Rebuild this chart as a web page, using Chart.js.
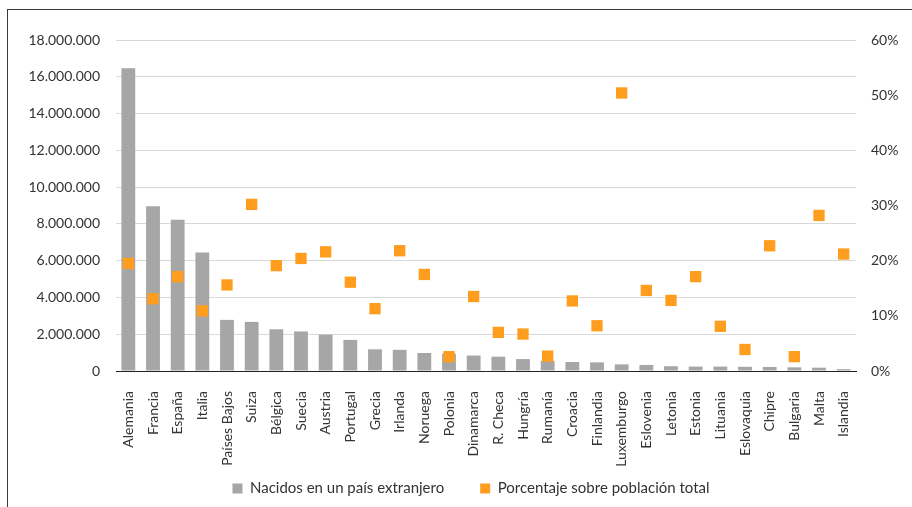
<!DOCTYPE html>
<html>
<head>
<meta charset="utf-8">
<script src="https://cdn.jsdelivr.net/npm/chart.js@4"></script>
<style>
  html, body { margin: 0; padding: 0; background: #fff; overflow: hidden; }
  #wrap { position: relative; width: 912px; height: 507px; }
  #frame { position: absolute; left: 7px; top: 9px; width: 1000px; height: 1000px; border: 1px solid #3a3a3a; pointer-events: none; }
</style>
</head>
<body>
<div id="wrap">
  <canvas id="chart" width="912" height="507"></canvas>
  <div id="frame"></div>
</div>
<script>
// Países (ordenados por número de nacidos en el extranjero)
const paises = ['Alemania', 'Francia', 'España', 'Italia', 'Países Bajos', 'Suiza', 'Bélgica', 'Suecia',
  'Austria', 'Portugal', 'Grecia', 'Irlanda', 'Noruega', 'Polonia', 'Dinamarca', 'R. Checa', 'Hungría',
  'Rumanía', 'Croacia', 'Finlandia', 'Luxemburgo', 'Eslovenia', 'Letonia', 'Estonia', 'Lituania',
  'Eslovaquia', 'Chipre', 'Bulgaria', 'Malta', 'Islandia'];

// Nacidos en un país extranjero (personas)
const nacidos = [16460000, 8960000, 8220000, 6440000, 2780000, 2670000, 2270000, 2150000,
  1980000, 1690000, 1180000, 1150000, 980000, 940000, 840000, 780000, 650000,
  550000, 490000, 470000, 360000, 330000, 260000, 240000, 240000,
  230000, 220000, 200000, 180000, 100000];

// Porcentaje sobre población total (%)
const porcentaje = [19.5, 13.1, 17.1, 10.9, 15.6, 30.2, 19.1, 20.4,
  21.6, 16.1, 11.3, 21.8, 17.5, 2.6, 13.5, 7.0, 6.7,
  2.7, 12.7, 8.2, 50.4, 14.6, 12.8, 17.1, 8.1,
  3.9, 22.7, 2.6, 28.2, 21.2];

const ticksIzq = { min: 0, max: 18000000, step: 2000000 };
const ticksDer = { min: 0, max: 60, step: 10 };

const fuente = { family: 'Lato', size: 14 };
const colorTexto = '#333333';

function miles(v) {
  return String(Math.round(v)).replace(/\B(?=(\d{3})+(?!\d))/g, '.');
}

// las etiquetas giradas son más largas que la caja del eje: no recortarlas,
// y la leyenda va un poco desplazada a la derecha como en el original
const ajustes = {
  id: 'ajustes',
  afterLayout(chart) {
    chart.scales.x.bottom = chart.height;
    chart.legend.left += 15;
    chart.legend.right += 15;
  }
};

new Chart(document.getElementById('chart'), {
  type: 'bar',
  data: {
    labels: paises,
    datasets: [
      {
        label: 'Nacidos en un país extranjero',
        data: nacidos,
        backgroundColor: '#A6A6A6',
        borderWidth: 0,
        categoryPercentage: 1,
        barPercentage: 0.56,
        yAxisID: 'y',
        order: 2
      },
      {
        type: 'line',
        label: 'Porcentaje sobre población total',
        data: porcentaje,
        showLine: false,
        pointStyle: 'rect',
        pointRadius: 8,
        pointHoverRadius: 8,
        backgroundColor: '#FF9E1E',
        borderColor: '#FF9E1E',
        borderWidth: 0,
        yAxisID: 'y1',
        order: 1
      }
    ]
  },
  plugins: [ajustes],
  options: {
    responsive: false,
    animation: false,
    layout: { padding: { top: 40, left: 0, right: 0, bottom: 1 } },
    scales: {
      x: {
        grid: { display: false },
        border: { display: true, color: '#222', width: 1 },
        ticks: {
          font: fuente, color: colorTexto,
          minRotation: 90, maxRotation: 90, padding: 12, autoSkip: false
        },
        afterFit: (scale) => { scale.height = 74; }
      },
      y: {
        position: 'left',
        min: ticksIzq.min, max: ticksIzq.max,
        grid: { color: '#D9D9D9', lineWidth: 1, drawTicks: false },
        border: { display: false },
        ticks: {
          stepSize: ticksIzq.step, font: fuente, color: colorTexto, padding: 16,
          callback: (v) => miles(v)
        },
        afterFit: (scale) => { scale.width = 116; }
      },
      y1: {
        position: 'right',
        min: ticksDer.min, max: ticksDer.max,
        grid: { display: false, drawTicks: false },
        border: { display: false },
        ticks: {
          stepSize: ticksDer.step, font: fuente, color: colorTexto, padding: 15,
          callback: (v) => v + '%'
        },
        afterFit: (scale) => { scale.width = 56; }
      }
    },
    plugins: {
      tooltip: { enabled: false },
      legend: {
        position: 'bottom',
        labels: {
          font: { family: 'Lato', size: 15 }, color: colorTexto,
          boxWidth: 10, boxHeight: 10, padding: 36,
          sort: (a, b) => a.datasetIndex - b.datasetIndex
        }
      }
    }
  }
});
</script>
</body>
</html>
